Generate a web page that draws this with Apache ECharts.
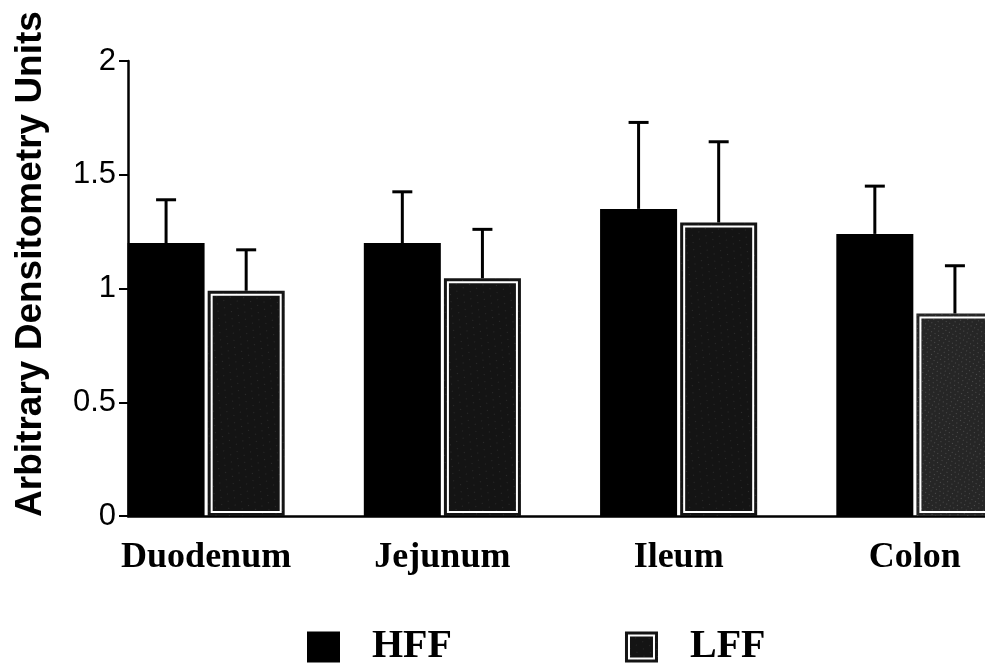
<!DOCTYPE html>
<html>
<head>
<meta charset="utf-8">
<script src="https://cdn.jsdelivr.net/npm/echarts@6/dist/echarts.min.js"></script>
<style>
html,body{margin:0;padding:0;background:#fff;overflow:hidden;width:985px;height:668px;}
#chart{width:1040px;height:668px;}
</style>
</head>
<body>
<div id="chart"></div>
<script>
const categories = ['Duodenum', 'Jejunum', 'Ileum', 'Colon'];
const hffMean = [1.20, 1.20, 1.35, 1.24];
const hffErrTop = [1.39, 1.425, 1.73, 1.45];
const lffMean = [0.99, 1.045, 1.29, 0.89];
const lffErrTop = [1.17, 1.26, 1.645, 1.10];
const yTicks = [0, 0.5, 1, 1.5, 2];
const seriesNames = ['HFF', 'LFF'];
const yTitle = 'Arbitrary Densitometry Units';

const BAR_W = 0.326;   // fraction of category band
const BAR_GAP = 0.04;  // fraction of bar width

const chart = echarts.init(document.getElementById('chart'), null, {renderer: 'canvas'});

function sideRender(side, withRing) {
  return function (params, api) {
    const band = api.size([1, 0])[0];
    const bw = band * BAR_W;
    const gap = bw * BAR_GAP;
    const off = side * (bw + gap) / 2;
    const base = api.coord([api.value(0), api.value(1)]);
    const zero = api.coord([api.value(0), 0]);
    const top = api.coord([api.value(0), api.value(2)]);
    const x = base[0] + off;
    const children = [];
    if (withRing) {
      children.push({
        type: 'rect',
        shape: {x: x - bw / 2 + 4, y: base[1] + 4, width: bw - 8, height: zero[1] - base[1] - 8},
        style: {fill: null, stroke: '#fff', lineWidth: 2}
      });
    }
    children.push({
      type: 'line',
      shape: {x1: x, y1: base[1], x2: x, y2: top[1]},
      style: {stroke: '#000', lineWidth: 3}
    });
    children.push({
      type: 'line',
      shape: {x1: x - 10, y1: top[1], x2: x + 10, y2: top[1]},
      style: {stroke: '#000', lineWidth: 3}
    });
    return {type: 'group', children: children};
  };
}

const lffDecal = {
  symbol: 'rect',
  symbolSize: 0.4,
  color: 'rgba(255,255,255,0.5)',
  dashArrayX: [[1, 7], [0, 4, 1, 3]],
  dashArrayY: [1, 5],
  rotation: 0.5
};
const lffDecalDense = {
  symbol: 'rect',
  symbolSize: 0.6,
  color: 'rgba(255,255,255,0.6)',
  dashArrayX: [[1, 3], [0, 2, 1, 2]],
  dashArrayY: [1, 3],
  rotation: 0.5
};

const option = {
  backgroundColor: '#fff',
  animation: false,
  grid: [
    {left: 88, width: 945, top: 61, bottom: 152},
    {left: 128, right: 55, top: 61, bottom: 152}
  ],
  legend: {
    left: 302,
    top: 622,
    itemWidth: 33,
    itemHeight: 31,
    itemGap: 173,
    selectedMode: false,
    textStyle: {
      fontFamily: 'Liberation Serif',
      fontWeight: 'bold',
      fontSize: 40,
      color: '#000',
      padding: [0, 0, 0, 27]
    },
    data: [
      {name: seriesNames[0], icon: 'rect'},
      {name: seriesNames[1], icon: 'path://M0,0H33V31H0Z M3,3V28H30V3Z M5,5H28V26H5Z'}
    ]
  },
  graphic: [{
    type: 'text',
    x: 31,
    y: 264,
    rotation: Math.PI / 2,
    style: {
      text: yTitle,
      font: 'bold 37px "Liberation Sans", Arial, sans-serif',
      fill: '#000',
      align: 'center',
      verticalAlign: 'middle'
    }
  }],
  xAxis: [
    {
      gridIndex: 0,
      type: 'category',
      data: categories,
      axisLine: {show: false},
      axisTick: {show: false},
      axisLabel: {
        margin: 24,
        fontFamily: 'Liberation Serif',
        fontWeight: 'bold',
        fontSize: 36,
        color: '#000'
      }
    },
    {
      gridIndex: 1,
      type: 'value',
      min: 0, max: 1,
      axisLine: {show: true, lineStyle: {color: '#000', width: 2.5}},
      axisTick: {show: false},
      axisLabel: {show: false},
      splitLine: {show: false}
    }
  ],
  yAxis: [
    {gridIndex: 0, type: 'value', min: 0, max: 2, show: false},
    {
      gridIndex: 1,
      type: 'value',
      min: yTicks[0],
      max: yTicks[yTicks.length - 1],
      interval: 0.5,
      axisLine: {show: true, lineStyle: {color: '#000', width: 2.5}},
      axisTick: {show: true, length: 9, lineStyle: {color: '#000', width: 2}},
      splitLine: {show: false},
      axisLabel: {
        margin: 12,
        fontFamily: 'Liberation Sans',
        fontSize: 31,
        color: '#000',
        formatter: function (v) { return String(v); }
      }
    }
  ],
  series: [
    {
      name: seriesNames[0],
      type: 'bar',
      xAxisIndex: 0, yAxisIndex: 0,
      barWidth: (BAR_W * 100) + '%',
      barGap: (BAR_GAP * 100) + '%',
      itemStyle: {color: '#000'},
      data: hffMean
    },
    {
      name: seriesNames[1],
      type: 'bar',
      xAxisIndex: 0, yAxisIndex: 0,
      barWidth: (BAR_W * 100) + '%',
      barGap: (BAR_GAP * 100) + '%',
      itemStyle: {color: '#141414', decal: lffDecal},
      data: lffMean.map(function (v, i) {
        return i === 3 ? {value: v, itemStyle: {color: '#262626', decal: lffDecalDense}} : v;
      })
    },
    {
      name: 'HFF SEM',
      type: 'custom',
      xAxisIndex: 0, yAxisIndex: 0,
      z: 5,
      renderItem: sideRender(-1, false),
      data: categories.map(function (c, i) { return [i, hffMean[i], hffErrTop[i]]; })
    },
    {
      name: 'LFF SEM',
      type: 'custom',
      xAxisIndex: 0, yAxisIndex: 0,
      z: 5,
      renderItem: sideRender(1, true),
      data: categories.map(function (c, i) { return [i, lffMean[i], lffErrTop[i]]; })
    }
  ]
};
chart.setOption(option);
</script>
</body>
</html>
